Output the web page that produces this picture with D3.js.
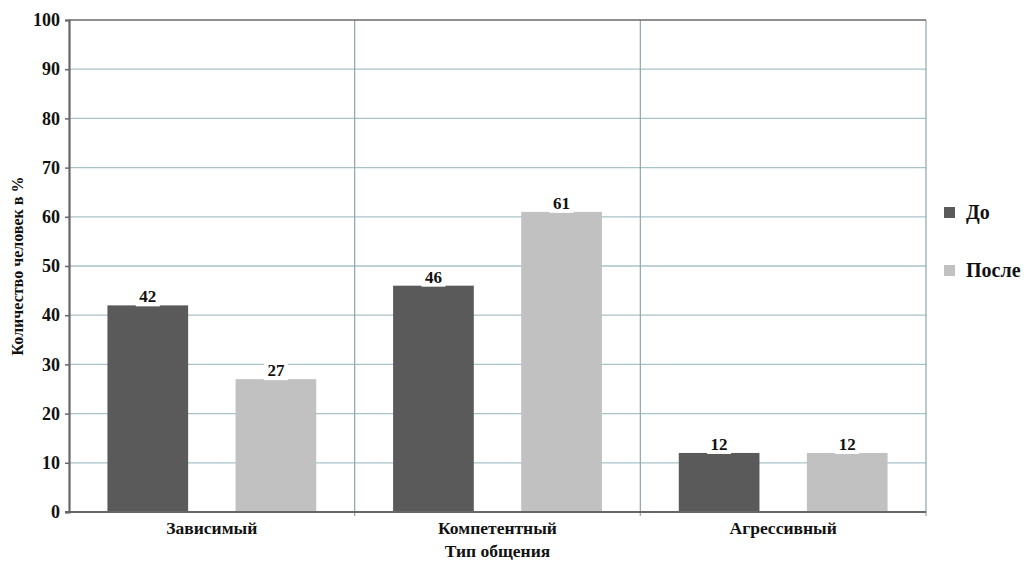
<!DOCTYPE html>
<html lang="ru">
<head>
<meta charset="utf-8">
<script src="https://d3js.org/d3.v7.min.js"></script>
<style>
  body { margin: 0; background: #fff; }
  svg text { font-family: "Liberation Serif", "Times New Roman", Times, "DejaVu Serif", serif !important; font-weight: bold; fill: #111; }
</style>
</head>
<body>
<div id="chart"></div>
<script>
// chart data
var categories = ["Зависимый", "Компетентный", "Агрессивный"];
var seriesNames = ["До", "После"];
var valuesBefore = [42, 46, 12];
var valuesAfter = [27, 61, 12];
var yTicks = [0, 10, 20, 30, 40, 50, 60, 70, 80, 90, 100];

var width = 1030, height = 566;
var margin = {top: 20, right: 104, bottom: 54, left: 69};
var colors = ["#5a5a5a", "#c1c1c1"];

var svg = d3.select("#chart").append("svg")
  .attr("width", width)
  .attr("height", height);

var x0 = d3.scaleBand()
  .domain(categories)
  .range([margin.left, width - margin.right])
  .padding(0);

var x1 = d3.scaleBand()
  .domain(seriesNames)
  .range([0, x0.bandwidth()])
  .paddingInner(0.37)
  .paddingOuter(0.3);

var y = d3.scaleLinear()
  .domain([0, 100])
  .range([height - margin.bottom, margin.top]);

// horizontal grid
svg.append("g").selectAll("line")
  .data(yTicks.slice(1, -1))
  .enter().append("line")
  .attr("x1", margin.left).attr("x2", width - margin.right)
  .attr("y1", function (d) { return y(d); })
  .attr("y2", function (d) { return y(d); })
  .attr("stroke", "#a9c2c8")
  .attr("stroke-width", 1.3);

// vertical separators + right border
var seps = categories.slice(1).map(function (c) { return x0(c); });
seps.push(width - margin.right);
svg.append("g").selectAll("line")
  .data(seps)
  .enter().append("line")
  .attr("x1", function (d) { return d; })
  .attr("x2", function (d) { return d; })
  .attr("y1", y(100))
  .attr("y2", y(0) + 4)
  .attr("stroke", "#8ea4ab")
  .attr("stroke-width", 1.2);

// top line
svg.append("line")
  .attr("x1", margin.left).attr("x2", width - margin.right)
  .attr("y1", y(100)).attr("y2", y(100))
  .attr("stroke", "#6a6a6a").attr("stroke-width", 1.5);

// bars
var rows = categories.map(function (c, i) {
  return {cat: c, vals: [valuesBefore[i], valuesAfter[i]]};
});

var groups = svg.append("g").selectAll("g")
  .data(rows)
  .enter().append("g")
  .attr("transform", function (d) { return "translate(" + x0(d.cat) + ",0)"; });

groups.selectAll("rect")
  .data(function (d) { return d.vals.map(function (v, j) { return {s: seriesNames[j], v: v, j: j}; }); })
  .enter().append("rect")
  .attr("x", function (d) { return x1(d.s); })
  .attr("y", function (d) { return y(d.v); })
  .attr("width", x1.bandwidth())
  .attr("height", function (d) { return y(0) - y(d.v); })
  .attr("fill", function (d) { return colors[d.j]; });

// value labels with white backing
var labels = groups.selectAll("g.lbl")
  .data(function (d) { return d.vals.map(function (v, j) { return {s: seriesNames[j], v: v}; }); })
  .enter().append("g")
  .attr("class", "lbl");

labels.append("rect")
  .attr("x", function (d) { return x1(d.s) + x1.bandwidth() / 2 - 12; })
  .attr("y", function (d) { return y(d.v) - 17; })
  .attr("width", 24)
  .attr("height", 18)
  .attr("fill", "#fff");

labels.append("text")
  .attr("x", function (d) { return x1(d.s) + x1.bandwidth() / 2; })
  .attr("y", function (d) { return y(d.v) - 3; })
  .attr("text-anchor", "middle")
  .style("font-size", "17px")
  .text(function (d) { return d.v; });

// y axis
var yAxis = svg.append("g")
  .attr("transform", "translate(" + margin.left + ",0)")
  .call(d3.axisLeft(y).tickValues(yTicks).tickSize(4).tickPadding(5));
yAxis.select(".domain").attr("stroke", "#666").attr("stroke-width", 2.2);
yAxis.selectAll(".tick line").attr("stroke", "#666").attr("stroke-width", 1.5);
yAxis.selectAll("text")
  .style("font-size", "18px")
  .attr("fill", "#111");

// x axis line
svg.append("line")
  .attr("x1", margin.left - 4).attr("x2", width - margin.right)
  .attr("y1", y(0)).attr("y2", y(0))
  .attr("stroke", "#666").attr("stroke-width", 2);

// category labels
svg.append("g").selectAll("text")
  .data(categories)
  .enter().append("text")
  .attr("x", function (d) { return x0(d) + x0.bandwidth() / 2; })
  .attr("y", y(0) + 22)
  .attr("text-anchor", "middle")
  .style("font-size", "17.5px")
  .text(function (d) { return d; });

// axis titles
svg.append("text")
  .attr("x", x0(categories[1]) + x0.bandwidth() / 2)
  .attr("y", height - 9)
  .attr("text-anchor", "middle")
  .style("font-size", "17.5px")
  .text("Тип общения");

svg.append("text")
  .attr("transform", "translate(23," + y(50) + ") rotate(-90)")
  .attr("text-anchor", "middle")
  .style("font-size", "16px")
  .text("Количество человек в %");

// legend
var legend = svg.append("g").selectAll("g")
  .data(seriesNames)
  .enter().append("g")
  .attr("transform", function (d, i) { return "translate(944," + (207 + i * 58) + ")"; });

legend.append("rect")
  .attr("width", 11).attr("height", 11)
  .attr("fill", function (d, i) { return colors[i]; });

legend.append("text")
  .attr("x", 22).attr("y", 12)
  .style("font-size", "20px")
  .text(function (d) { return d; });
</script>
</body>
</html>
